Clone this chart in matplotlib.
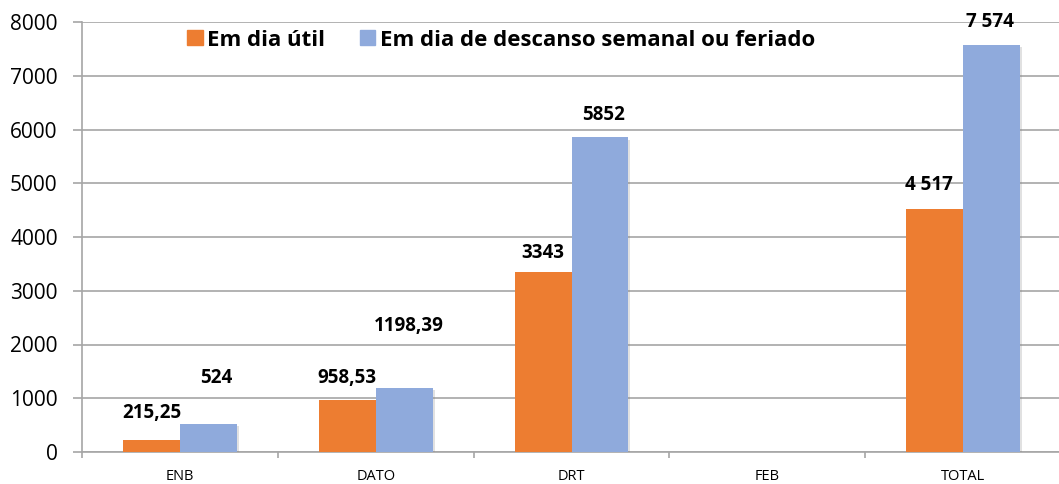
import numpy as np
import matplotlib
matplotlib.use("Agg")
import matplotlib.pyplot as plt
from matplotlib.patches import Patch
import matplotlib.patheffects as pe

plt.rcParams['font.family'] = ['Open Sans', 'DejaVu Sans']

categories = ["ENB", "DATO", "DRT", "FEB", "TOTAL"]
util_values = [215.25, 958.53, 3343, np.nan, 4517]
descanso_values = [524, 1198.39, 5852, np.nan, 7574]
util_labels = ["215,25", "958,53", "3343", "", "4 517"]
descanso_labels = ["524", "1198,39", "5852", "", "7 574"]
series_names = ["Em dia útil", "Em dia de descanso semanal ou feriado"]
y_ticks = [0, 1000, 2000, 3000, 4000, 5000, 6000, 7000, 8000]

# label offsets (pixels) above bar tops, as placed in the original
util_off = [(0, 27), (0, 22), (0, 19), (0, 0), (-6, 24)]
desc_off = [(8, 46), (5, 62), (4, 22), (0, 0), (-2, 23)]

c_orange = "#ED7D31"
c_blue = "#8FAADC"

fig = plt.figure(figsize=(10.59, 4.84), dpi=100)
ax = fig.add_axes([82/1059, 1 - 452/484, 1 - 82/1059 + 0.002, (452 - 22)/484])

x = np.arange(len(categories))
w = 0.29
shadow = [pe.SimplePatchShadow(offset=(1.5, -1.5), alpha=0.25, shadow_rgbFace='#888888'), pe.Normal()]
b1 = ax.bar(x - w/2, util_values, w, color=c_orange, zorder=3, path_effects=shadow)
b2 = ax.bar(x + w/2, descanso_values, w, color=c_blue, zorder=3, path_effects=shadow)

px = 72 / 100
for xi, v, lab, off in zip(x, util_values, util_labels, util_off):
    if lab:
        ax.annotate(lab, (xi - w/2, v), xytext=(off[0]*px, off[1]*px), textcoords="offset points",
                    ha="center", va="center", fontsize=13.5, fontweight="bold", color="black", zorder=5)
for xi, v, lab, off in zip(x, descanso_values, descanso_labels, desc_off):
    if lab:
        ax.annotate(lab, (xi + w/2, v), xytext=(off[0]*px, off[1]*px), textcoords="offset points",
                    ha="center", va="center", fontsize=13.5, fontweight="bold", color="black", zorder=5)

ax.set_xlim(-0.5, len(categories) - 0.5)
ax.set_ylim(0, 8000)
ax.set_yticks(y_ticks)
ax.set_yticklabels([str(t) for t in y_ticks], fontsize=15)
ax.set_xticks(x)
ax.set_xticklabels(categories, fontsize=10.5)
ax.set_xticks(np.arange(len(categories) + 1) - 0.5, minor=True)
ax.tick_params(axis='x', which='major', length=0, pad=12)
ax.tick_params(axis='x', which='minor', length=4, color="#A6A6A6", width=1.2)
ax.tick_params(axis='y', length=6.5, color="#A6A6A6", width=1.2, pad=11)

ax.grid(axis='y', color="#A6A6A6", linewidth=1.2, zorder=0)
for s in ["top", "right"]:
    ax.spines[s].set_visible(False)
for s in ["left", "bottom"]:
    ax.spines[s].set_color("#A6A6A6")
    ax.spines[s].set_linewidth(1.2)

handles = [Patch(color=c_orange), Patch(color=c_blue)]
fig.legend(handles, series_names, loc="center left", bbox_to_anchor=(183/1059, 1 - 40/484),
           ncol=2, frameon=False, handlelength=0.68, handleheight=0.68, handletextpad=0.22,
           columnspacing=1.55, borderaxespad=0, borderpad=0.2, prop={'weight': 'bold', 'size': 16})

fig.savefig("out.png", dpi=100)
